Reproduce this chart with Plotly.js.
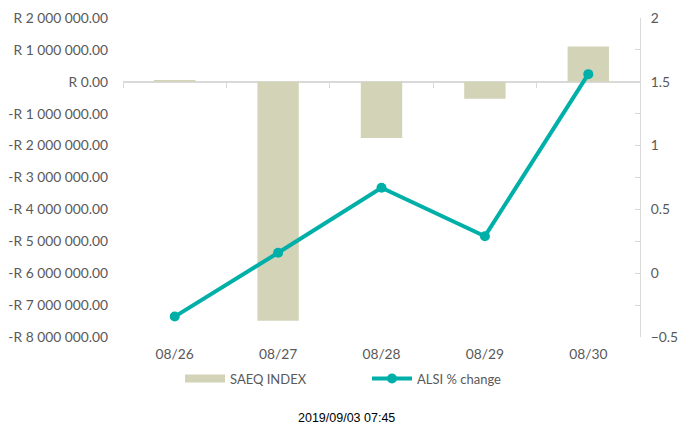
<!DOCTYPE html>
<html>
<head>
<meta charset="utf-8">
<script src="https://cdn.plot.ly/plotly-3.0.1.min.js"></script>
<style>html,body{margin:0;padding:0;background:#fff;}#chart{width:681px;height:428px;}</style>
</head>
<body>
<div id="chart"></div>
<script>
const categories = ['08/26', '08/27', '08/28', '08/29', '08/30'];
const saeqIndex = [60000, -7490000, -1760000, -530000, 1110000];
const alsiChange = [-0.34, 0.16, 0.67, 0.29, 1.56];
const leftTickVals = [2000000, 1000000, 0, -1000000, -2000000, -3000000, -4000000, -5000000, -6000000, -7000000, -8000000];
const leftTickText = ['R 2 000 000.00', 'R 1 000 000.00', 'R 0.00', '-R 1 000 000.00', '-R 2 000 000.00', '-R 3 000 000.00', '-R 4 000 000.00', '-R 5 000 000.00', '-R 6 000 000.00', '-R 7 000 000.00', '-R 8 000 000.00'];
const timestamp = '2019/09/03 07:45';

const barColor = '#D3D3B8';
const lineColor = '#00B0A8';
const textColor = '#595959';
const axisGray = '#D9D9D9';
const font = 'Lato, "Noto Sans", sans-serif';
const fs = 13.8;

const traces = [
  {
    type: 'bar', x: categories, y: saeqIndex, xaxis: 'x', yaxis: 'y',
    marker: {color: barColor}, width: 0.4, showlegend: false, hoverinfo: 'skip'
  },
  {
    type: 'scatter', mode: 'lines', x: [null], y: [null], name: 'SAEQ INDEX',
    line: {color: barColor, width: 8}, showlegend: true
  },
  {
    type: 'scatter', mode: 'lines+markers', x: categories, y: alsiChange,
    xaxis: 'x2', yaxis: 'y2', name: 'ALSI % change',
    line: {color: lineColor, width: 4}, marker: {color: lineColor, size: 10}
  }
];

const layout = {
  width: 681, height: 428,
  margin: {l: 123, r: 41, t: 18, b: 91},
  paper_bgcolor: '#fff', plot_bgcolor: '#fff',
  font: {family: font, size: fs, color: textColor},
  xaxis: {
    type: 'category', categoryarray: categories, range: [-0.5, 4.5],
    showgrid: false, zeroline: false, showline: false, ticks: '',
    ticklabelstandoff: 7, tickfont: {size: fs, color: textColor}
  },
  xaxis2: {
    type: 'category', categoryarray: categories, range: [-0.5, 4.5],
    overlaying: 'x', anchor: 'free', position: (337 - 81) / 319,
    showgrid: false, zeroline: false, showline: false,
    ticks: 'outside', tickson: 'boundaries', ticklen: 6, tickcolor: axisGray,
    showticklabels: false
  },
  yaxis: {
    range: [-8000000, 2000000], tickvals: leftTickVals, ticktext: leftTickText,
    showgrid: false, showline: false, ticks: '',
    zeroline: true, zerolinecolor: axisGray, zerolinewidth: 1.5,
    ticklabelstandoff: 14, tickfont: {size: fs, color: textColor}
  },
  yaxis2: {
    overlaying: 'y', side: 'right', anchor: 'x2',
    range: [-0.5, 2], dtick: 0.5, tick0: 0,
    showgrid: false, zeroline: false,
    showline: true, linecolor: axisGray, linewidth: 1,
    ticks: 'inside', ticklen: 5, tickcolor: axisGray,
    minor: {dtick: 0.25, ticks: 'inside', ticklen: 5, tickcolor: axisGray},
    ticklabelstandoff: 7, tickfont: {size: fs, color: textColor}
  },
  legend: {
    orientation: 'h', x: (180 - 123) / 517, xanchor: 'left', y: -0.083, yanchor: 'top',
    font: {size: 13, color: textColor}, itemwidth: 40, entrywidth: 132, entrywidthmode: 'pixels',
    tracegroupgap: 0, bgcolor: 'rgba(0,0,0,0)'
  },
  annotations: [{
    text: timestamp, xref: 'paper', yref: 'paper', x: 0.432, y: -0.255,
    xanchor: 'center', yanchor: 'middle', showarrow: false,
    font: {family: '"Liberation Sans", Arial, sans-serif', size: 12.5, color: '#000'}
  }]
};

Plotly.newPlot('chart', traces, layout, {displayModeBar: false, staticPlot: true});
</script>
</body>
</html>
